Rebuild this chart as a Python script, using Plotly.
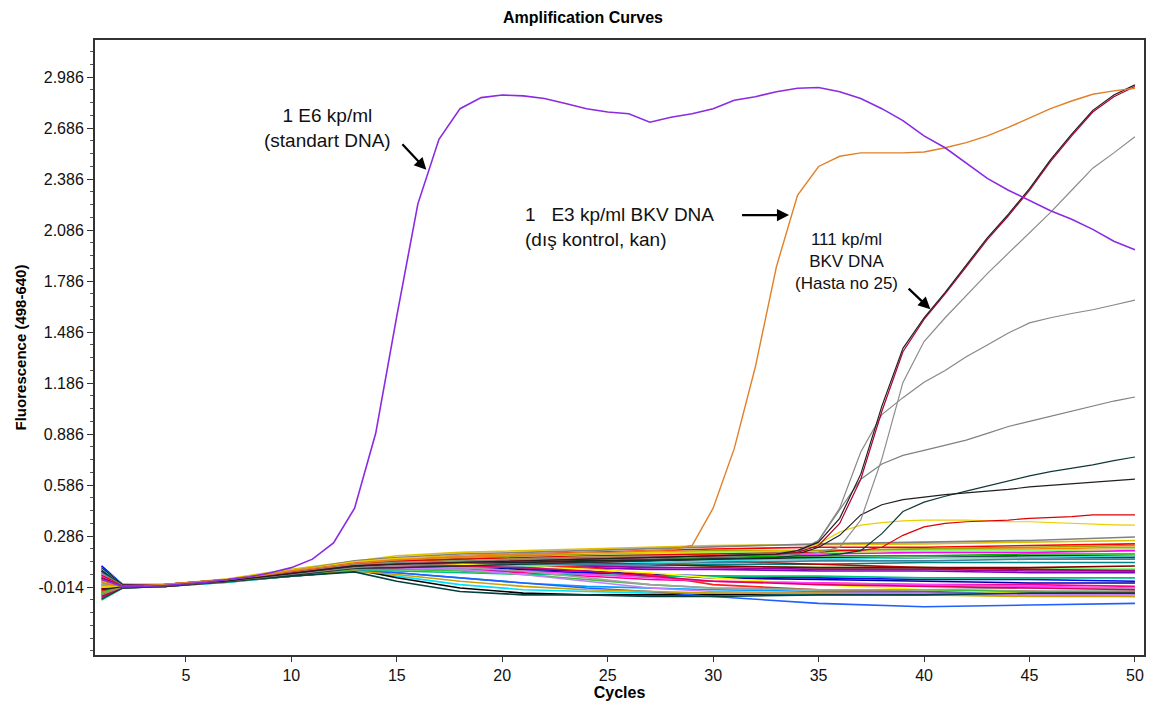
import plotly.graph_objects as go

# ---------------- data ----------------
cycles_all = list(range(1, 51))

standard_dna = [0.03, -0.01, -0.01, -0.005, 0.005, 0.015, 0.03, 0.045, 0.07, 0.10,
                0.15, 0.245, 0.45, 0.89, 1.58, 2.24, 2.62, 2.80, 2.865, 2.88,
                2.875, 2.86, 2.83, 2.80, 2.78, 2.77, 2.72, 2.75, 2.77, 2.80,
                2.85, 2.87, 2.90, 2.92, 2.925, 2.90, 2.86, 2.80, 2.73, 2.64,
                2.57, 2.48, 2.39, 2.32, 2.26, 2.20, 2.15, 2.09, 2.02, 1.97]

bkv_control = [0.01, -0.01, -0.008, 0.0, 0.01, 0.02, 0.03, 0.045, 0.06, 0.08,
               0.095, 0.11, 0.125, 0.135, 0.145, 0.15, 0.16, 0.165, 0.17, 0.175,
               0.18, 0.18, 0.185, 0.19, 0.19, 0.195, 0.2, 0.205, 0.23, 0.45,
               0.80, 1.28, 1.87, 2.29, 2.46, 2.52, 2.54, 2.54, 2.54, 2.545,
               2.57, 2.60, 2.64, 2.69, 2.745, 2.80, 2.845, 2.885, 2.905, 2.92]

late_cycles = [1, 2, 4, 7, 10, 13, 15, 18, 21, 24, 27, 30, 33] + list(range(34, 51))

patient_25 = [-0.03, -0.012, -0.005, 0.022, 0.065, 0.11, 0.12, 0.13, 0.14, 0.15, 0.16, 0.17, 0.18,
              0.2, 0.25, 0.39, 0.65, 1.05, 1.39, 1.57, 1.72, 1.88, 2.04, 2.18, 2.33, 2.50, 2.65, 2.79, 2.88, 2.94]
patient_red = [0.04, -0.008, -0.004, 0.024, 0.068, 0.112, 0.122, 0.132, 0.142, 0.152, 0.162, 0.17, 0.178,
               0.19, 0.23, 0.36, 0.62, 1.02, 1.37, 1.56, 1.71, 1.87, 2.03, 2.17, 2.32, 2.49, 2.64, 2.78, 2.87, 2.93]
gray_high = [0.012, -0.01, -0.002, 0.026, 0.07, 0.115, 0.125, 0.135, 0.145, 0.15, 0.155, 0.165, 0.175,
             0.18, 0.19, 0.22, 0.38, 0.74, 1.19, 1.43, 1.57, 1.70, 1.83, 1.95, 2.07, 2.19, 2.32, 2.45, 2.54, 2.635]
gray_mid = [-0.06, -0.014, -0.006, 0.02, 0.06, 0.1, 0.115, 0.13, 0.14, 0.15, 0.16, 0.17, 0.185,
            0.2, 0.26, 0.45, 0.78, 1.0, 1.10, 1.19, 1.26, 1.34, 1.41, 1.48, 1.54, 1.57, 1.595, 1.617, 1.645, 1.674]
gray_low = [0.07, -0.005, -0.003, 0.025, 0.07, 0.12, 0.13, 0.14, 0.15, 0.16, 0.165, 0.17, 0.18,
            0.19, 0.26, 0.44, 0.62, 0.71, 0.76, 0.79, 0.82, 0.85, 0.89, 0.93, 0.96, 0.99, 1.02, 1.05, 1.08, 1.104]
dark_a = [0.1, 0.0, -0.008, 0.02, 0.06, 0.105, 0.12, 0.13, 0.14, 0.15, 0.155, 0.165, 0.175,
          0.18, 0.22, 0.29, 0.41, 0.47, 0.50, 0.515, 0.53, 0.54, 0.55, 0.56, 0.575, 0.585, 0.595, 0.605, 0.613, 0.621]
dark_b = [-0.085, -0.02, -0.01, 0.018, 0.055, 0.095, 0.1, 0.11, 0.12, 0.13, 0.14, 0.15, 0.16,
          0.17, 0.17, 0.18, 0.2, 0.3, 0.43, 0.485, 0.52, 0.55, 0.58, 0.61, 0.64, 0.665, 0.685, 0.705, 0.73, 0.751]
red_late = [0.055, -0.004, 0.0, 0.03, 0.075, 0.125, 0.14, 0.15, 0.16, 0.17, 0.175, 0.18, 0.185,
            0.19, 0.19, 0.2, 0.2, 0.22, 0.29, 0.34, 0.36, 0.37, 0.375, 0.38, 0.39, 0.395, 0.40, 0.41, 0.41, 0.41]
yellow_late = [-0.01, -0.01, 0.0, 0.03, 0.08, 0.135, 0.155, 0.17, 0.18, 0.185, 0.19, 0.195, 0.2,
               0.2, 0.24, 0.31, 0.35, 0.365, 0.375, 0.38, 0.38, 0.38, 0.375, 0.37, 0.37, 0.365, 0.36, 0.355, 0.352, 0.35]

base_cycles = [1, 2, 4, 7, 10, 13, 15, 18, 21, 24, 27, 30, 35, 40, 45, 50]
b01 = [0.02, -0.01, 0.0, 0.03, 0.08, 0.13, 0.15, 0.17, 0.18, 0.19, 0.2, 0.21, 0.22, 0.22, 0.23, 0.24]
b02 = [-0.05, -0.015, -0.005, 0.025, 0.07, 0.11, 0.13, 0.14, 0.15, 0.15, 0.16, 0.16, 0.17, 0.17, 0.18, 0.18]
b03 = [0.11, 0.0, -0.01, 0.02, 0.06, 0.09, 0.10, 0.09, 0.08, 0.07, 0.06, 0.05, 0.04, 0.03, 0.03, 0.02]
b04 = [-0.08, -0.02, -0.01, 0.02, 0.05, 0.08, 0.05, 0.0, -0.03, -0.04, -0.05, -0.05, -0.06, -0.06, -0.06, -0.07]
b05 = [0.05, -0.005, 0.0, 0.03, 0.07, 0.12, 0.14, 0.15, 0.16, 0.16, 0.17, 0.18, 0.18, 0.19, 0.19, 0.2]
b06 = [-0.03, -0.01, 0.0, 0.035, 0.09, 0.14, 0.17, 0.19, 0.2, 0.21, 0.22, 0.23, 0.235, 0.24, 0.25, 0.26]
b07 = [0.09, 0.0, -0.005, 0.025, 0.06, 0.09, 0.04, -0.02, -0.05, -0.06, -0.06, -0.06, -0.05, -0.05, -0.04, -0.04]
b08 = [-0.02, -0.012, -0.003, 0.03, 0.08, 0.13, 0.15, 0.16, 0.17, 0.18, 0.18, 0.19, 0.2, 0.21, 0.21, 0.22]
b09 = [0.0, -0.01, -0.005, 0.025, 0.065, 0.1, 0.11, 0.11, 0.1, 0.1, 0.09, 0.09, 0.08, 0.08, 0.07, 0.07]
b10 = [-0.06, -0.015, -0.01, 0.02, 0.055, 0.085, 0.09, 0.1, 0.1, 0.11, 0.11, 0.12, 0.12, 0.13, 0.13, 0.13]
b11 = [0.03, -0.008, 0.0, 0.03, 0.07, 0.11, 0.12, 0.12, 0.13, 0.12, 0.12, 0.11, 0.1, 0.1, 0.09, 0.09]
b12 = [0.07, 0.0, -0.005, 0.02, 0.06, 0.1, 0.1, 0.09, 0.07, 0.05, 0.03, 0.02, 0.01, 0.0, 0.0, -0.01]
b13 = [-0.04, -0.014, -0.008, 0.022, 0.06, 0.1, 0.12, 0.13, 0.14, 0.14, 0.15, 0.15, 0.15, 0.16, 0.16, 0.16]
b14 = [0.1, 0.0, -0.01, 0.015, 0.05, 0.08, 0.07, 0.04, 0.01, -0.01, -0.02, -0.03, -0.04, -0.04, -0.05, -0.05]
b15 = [-0.07, -0.02, -0.01, 0.02, 0.06, 0.11, 0.13, 0.15, 0.15, 0.16, 0.15, 0.14, 0.12, 0.1, 0.09, 0.08]
b16 = [0.06, 0.0, 0.0, 0.03, 0.08, 0.14, 0.16, 0.18, 0.19, 0.2, 0.21, 0.22, 0.24, 0.25, 0.26, 0.28]
b17 = [-0.01, -0.01, 0.0, 0.03, 0.075, 0.12, 0.14, 0.15, 0.17, 0.18, 0.19, 0.2, 0.2, 0.21, 0.22, 0.23]
b18 = [0.04, -0.005, -0.005, 0.02, 0.055, 0.09, 0.1, 0.1, 0.09, 0.08, 0.06, 0.04, 0.03, 0.02, 0.01, 0.01]
b19 = [-0.09, -0.02, -0.01, 0.015, 0.05, 0.08, 0.08, 0.07, 0.06, 0.06, 0.05, 0.05, 0.05, 0.04, 0.04, 0.04]
b20 = [0.08, 0.0, -0.005, 0.025, 0.065, 0.1, 0.11, 0.12, 0.12, 0.11, 0.1, 0.1, 0.09, 0.09, 0.08, 0.08]
b21 = [-0.035, -0.012, -0.005, 0.025, 0.07, 0.11, 0.12, 0.13, 0.12, 0.1, 0.06, 0.0, -0.03, -0.04, -0.04, -0.05]
b22 = [0.015, -0.01, 0.0, 0.03, 0.075, 0.12, 0.13, 0.12, 0.11, 0.09, 0.07, 0.04, 0.0, -0.03, -0.05, -0.06]
b23 = [-0.06, -0.015, -0.008, 0.022, 0.065, 0.11, 0.12, 0.13, 0.13, 0.14, 0.14, 0.15, 0.16, 0.16, 0.17, 0.17]
b24 = [0.095, 0.0, -0.01, 0.02, 0.055, 0.09, 0.09, 0.1, 0.11, 0.12, 0.13, 0.14, 0.15, 0.16, 0.16, 0.17]
b25 = [-0.02, -0.01, -0.005, 0.02, 0.05, 0.08, 0.07, 0.04, 0.01, -0.02, -0.04, -0.07, -0.11, -0.13, -0.12, -0.11]
b26 = [0.025, -0.008, 0.0, 0.03, 0.07, 0.11, 0.13, 0.14, 0.15, 0.16, 0.17, 0.18, 0.19, 0.2, 0.2, 0.21]
b27 = [-0.045, -0.015, -0.008, 0.02, 0.055, 0.09, 0.09, 0.08, 0.06, 0.03, 0.0, -0.02, -0.03, -0.03, -0.04, -0.04]
b28 = [0.06, -0.005, -0.005, 0.025, 0.06, 0.1, 0.1, 0.09, 0.06, 0.02, -0.02, -0.04, -0.05, -0.05, -0.06, -0.06]
b29 = [-0.025, -0.01, 0.0, 0.03, 0.075, 0.12, 0.13, 0.14, 0.14, 0.13, 0.12, 0.11, 0.1, 0.1, 0.1, 0.11]
b30 = [0.035, -0.005, 0.0, 0.025, 0.065, 0.1, 0.11, 0.11, 0.12, 0.12, 0.12, 0.13, 0.14, 0.14, 0.15, 0.15]
b31 = [-0.055, -0.015, -0.01, 0.018, 0.05, 0.08, 0.06, 0.02, -0.01, -0.03, -0.04, -0.05, -0.05, -0.06, -0.07, -0.07]
b32 = [0.05, 0.0, 0.0, 0.03, 0.07, 0.11, 0.11, 0.1, 0.08, 0.06, 0.04, 0.02, 0.01, 0.0, -0.01, -0.02]
b33 = [0.08, -0.005, -0.01, 0.02, 0.05, 0.075, 0.02, -0.04, -0.06, -0.06, -0.07, -0.07, -0.06, -0.06, -0.05, -0.05]
b34 = [-0.015, -0.01, -0.003, 0.027, 0.07, 0.115, 0.13, 0.14, 0.16, 0.17, 0.18, 0.19, 0.19, 0.2, 0.2, 0.21]
b35 = [0.0, -0.01, 0.0, 0.025, 0.065, 0.105, 0.11, 0.1, 0.08, 0.04, 0.0, -0.02, -0.03, -0.03, -0.02, -0.02]
b36 = [-0.075, -0.018, -0.01, 0.02, 0.06, 0.1, 0.1, 0.11, 0.1, 0.08, 0.05, 0.02, 0.0, -0.01, -0.02, -0.03]

baseline_series = [b01, b02, b03, b04, b05, b06, b07, b08, b09, b10, b11, b12,
                   b13, b14, b15, b16, b17, b18, b19, b20, b21, b22, b23, b24,
                   b25, b26, b27, b28, b29, b30, b31, b32, b33, b34, b35, b36]
baseline_colors = ["#ff0000", "#00b000", "#0000ff", "#00e0ff", "#ff00ff", "#e0c000",
                   "#000000", "#ff8000", "#8000c0", "#008080", "#00ff00", "#ff0090",
                   "#006000", "#00a0ff", "#c00000", "#808080", "#a0a000", "#0000a0",
                   "#00c080", "#a000a0", "#ff2020", "#ffff00", "#202020", "#40e0e0",
                   "#2060ff", "#ff9900", "#40c040", "#c080ff", "#800000", "#4080a0",
                   "#d0a000", "#ff40ff", "#004040", "#80ff80", "#a0a0a0", "#e00060"]

y_tick_values = [-0.014, 0.286, 0.586, 0.886, 1.186, 1.486, 1.786, 2.086, 2.386, 2.686, 2.986]
y_tick_labels = ["-0.014", "0.286", "0.586", "0.886", "1.186", "1.486",
                 "1.786", "2.086", "2.386", "2.686", "2.986"]
x_tick_values = [5, 10, 15, 20, 25, 30, 35, 40, 45, 50]

# ---------------- figure ----------------
FONT = "Liberation Sans, Arial, sans-serif"
fig = go.Figure()

for vals, col in zip(baseline_series, baseline_colors):
    fig.add_trace(go.Scatter(x=base_cycles, y=vals, mode="lines",
                             line=dict(color=col, width=1.6), hoverinfo="skip"))

late_specs = [
    (yellow_late, "#e8d000"), (red_late, "#e00000"), (dark_b, "#103838"),
    (dark_a, "#202020"), (gray_low, "#808080"), (gray_mid, "#888888"),
    (gray_high, "#8c8c8c"), (patient_red, "#b00030"), (patient_25, "#202020"),
]
for vals, col in late_specs:
    fig.add_trace(go.Scatter(x=late_cycles, y=vals, mode="lines",
                             line=dict(color=col, width=1.2), hoverinfo="skip"))

fig.add_trace(go.Scatter(x=cycles_all, y=bkv_control, mode="lines",
                         line=dict(color="#e0802a", width=1.4), hoverinfo="skip"))
fig.add_trace(go.Scatter(x=cycles_all, y=standard_dna, mode="lines",
                         line=dict(color="#8a2be2", width=1.6), hoverinfo="skip"))

ann_font = dict(family=FONT, size=19, color="#111")
annotations = [
    dict(x=11.7, y=2.685, xref="x", yref="y", showarrow=False,
         text="1 E6 kp/ml<br>(standart DNA)", align="center", font=ann_font),
    dict(x=16.4, y=2.44, ax=15.2, ay=2.6, xref="x", yref="y", axref="x", ayref="y",
         text="", showarrow=True, arrowhead=2, arrowsize=1.1, arrowwidth=2.2, arrowcolor="#000"),
    dict(x=21.0, y=2.105, xref="x", yref="y", showarrow=False, xanchor="left",
         text="1   E3 kp/ml BKV DNA<br>(dış kontrol, kan)", align="left", font=ann_font),
    dict(x=33.6, y=2.174, ax=31.3, ay=2.174, xref="x", yref="y", axref="x", ayref="y",
         text="", showarrow=True, arrowhead=2, arrowsize=1.1, arrowwidth=2.2, arrowcolor="#000"),
    dict(x=36.3, y=1.90, xref="x", yref="y", showarrow=False,
         text="111 kp/ml<br>BKV DNA<br>(Hasta no 25)", align="center",
         font=dict(family=FONT, size=17, color="#111")),
    dict(x=40.3, y=1.62, ax=39.2, ay=1.75, xref="x", yref="y", axref="x", ayref="y",
         text="", showarrow=True, arrowhead=2, arrowsize=1.1, arrowwidth=2.2, arrowcolor="#000"),
]

# the page body adds an 8px offset, so the figure is sized 8px smaller
fig.update_layout(
    width=1150, height=701,
    margin=dict(l=84, r=12, t=32, b=54),
    paper_bgcolor="white", plot_bgcolor="white",
    showlegend=False,
    title=dict(text="<b>Amplification Curves</b>", x=0.5, xanchor="center",
               y=0.986, yanchor="middle", font=dict(family=FONT, size=16, color="#000")),
    annotations=annotations,
    font=dict(family=FONT, color="#111"),
)
fig.update_xaxes(
    range=[0.69, 50.43], tickmode="array", tickvals=x_tick_values,
    ticks="outside", ticklen=5, tickcolor="#333", showgrid=False, zeroline=False,
    showline=True, linecolor="#333", linewidth=2, mirror=True,
    tickfont=dict(family=FONT, size=16, color="#111"),
    title=dict(text="<b>Cycles</b>", font=dict(family=FONT, size=16, color="#000"), standoff=2),
)
fig.update_yaxes(
    range=[-0.414, 3.204], tickmode="array", tickvals=y_tick_values, ticktext=y_tick_labels,
    ticks="outside", ticklen=6, tickcolor="#333", showgrid=False, zeroline=False,
    showline=True, linecolor="#333", linewidth=2, mirror=True,
    minor=dict(tickmode="linear", tick0=-0.014, dtick=0.075, ticks="outside",
               ticklen=3, tickcolor="#555", showgrid=False),
    tickfont=dict(family=FONT, size=16, color="#111"),
    title=dict(text="<b>Fluorescence (498-640)</b>", font=dict(family=FONT, size=15, color="#000"), standoff=8),
)

fig.write_html("out.html")
